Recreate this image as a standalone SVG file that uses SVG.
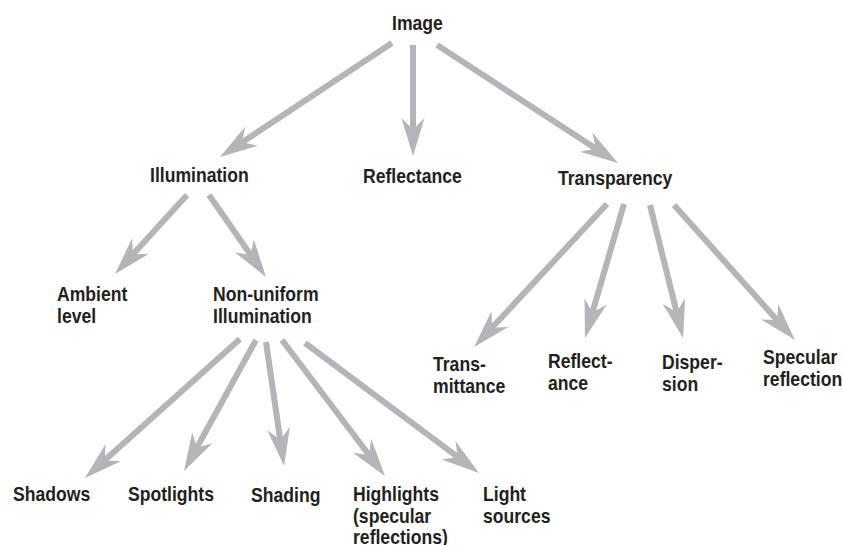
<svg xmlns="http://www.w3.org/2000/svg" width="843" height="545" viewBox="0 0 843 545">
<style>
.t{font-family:"Liberation Sans",Arial,Helvetica,sans-serif;font-weight:bold;font-size:20px;fill:#231f20}
.c{stroke:#b4b5b8;stroke-width:6;fill:none;marker-end:url(#ah)}
</style>
<defs>
<marker id="ah" markerUnits="userSpaceOnUse" orient="auto" refX="0" refY="0" markerWidth="80" markerHeight="80" viewBox="-40 -40 80 80" overflow="visible">
<path d="M28,0 L-10,-11.5 L-1,-2.5 L-1,2.5 L-10,11.5 Z" fill="#b4b5b8"/>
</marker>
</defs>
<rect width="843" height="545" fill="#ffffff"/>
<g id="connectors">
<line class="c" x1="392" y1="43" x2="243.3" y2="141.5"/>
<line class="c" x1="413" y1="45" x2="413" y2="128"/>
<line class="c" x1="437" y1="45" x2="594.5" y2="147.7"/>
<line class="c" x1="187" y1="195" x2="133.9" y2="253.3"/>
<line class="c" x1="209" y1="195" x2="250" y2="254"/>
<line class="c" x1="607" y1="204" x2="493.1" y2="326.5"/>
<line class="c" x1="624" y1="204" x2="592.8" y2="311.1"/>
<line class="c" x1="650" y1="205" x2="676.3" y2="310.8"/>
<line class="c" x1="674" y1="205" x2="776.3" y2="319.2"/>
<line class="c" x1="240" y1="339" x2="105.8" y2="459.3"/>
<line class="c" x1="256" y1="340" x2="197.5" y2="446.5"/>
<line class="c" x1="266" y1="342" x2="280" y2="438.3"/>
<line class="c" x1="282" y1="340" x2="368.1" y2="453.7"/>
<line class="c" x1="305" y1="343" x2="456.6" y2="456.2"/>
</g>
<g id="image"><text class="t" transform="translate(392,30) scale(0.88,1)">Image</text></g>
<g id="illumination"><text class="t" transform="translate(150,182) scale(0.88,1)">Illumination</text></g>
<g id="reflectance"><text class="t" transform="translate(363,183) scale(0.88,1)">Reflectance</text></g>
<g id="transparency"><text class="t" transform="translate(558,185) scale(0.88,1)">Transparency</text></g>
<g id="ambient"><text class="t" transform="translate(57,301) scale(0.88,1)"><tspan x="0" y="0">Ambient</tspan><tspan x="0" y="22">level</tspan></text></g>
<g id="nonuniform"><text class="t" transform="translate(213,301) scale(0.88,1)"><tspan x="0" y="0">Non-uniform</tspan><tspan x="0" y="22">Illumination</tspan></text></g>
<g id="transmittance"><text class="t" transform="translate(433,371) scale(0.88,1)"><tspan x="0" y="0">Trans-</tspan><tspan x="0" y="22">mittance</tspan></text></g>
<g id="reflect-ance"><text class="t" transform="translate(548,368) scale(0.88,1)"><tspan x="0" y="0">Reflect-</tspan><tspan x="0" y="22">ance</tspan></text></g>
<g id="dispersion"><text class="t" transform="translate(662,369) scale(0.88,1)"><tspan x="0" y="0">Disper-</tspan><tspan x="0" y="22">sion</tspan></text></g>
<g id="specular"><text class="t" transform="translate(763,364) scale(0.88,1)"><tspan x="0" y="0">Specular</tspan><tspan x="0" y="22">reflection</tspan></text></g>
<g id="shadows"><text class="t" transform="translate(13,501) scale(0.88,1)">Shadows</text></g>
<g id="spotlights"><text class="t" transform="translate(128,500.5) scale(0.88,1)">Spotlights</text></g>
<g id="shading"><text class="t" transform="translate(251,502) scale(0.88,1)">Shading</text></g>
<g id="highlights"><text class="t" transform="translate(353,501) scale(0.88,1)"><tspan x="0" y="0">Highlights</tspan><tspan x="0" y="22">(specular</tspan><tspan x="0" y="43">reflections)</tspan></text></g>
<g id="lightsources"><text class="t" transform="translate(483,501) scale(0.88,1)"><tspan x="0" y="0">Light</tspan><tspan x="0" y="22">sources</tspan></text></g>
</svg>
